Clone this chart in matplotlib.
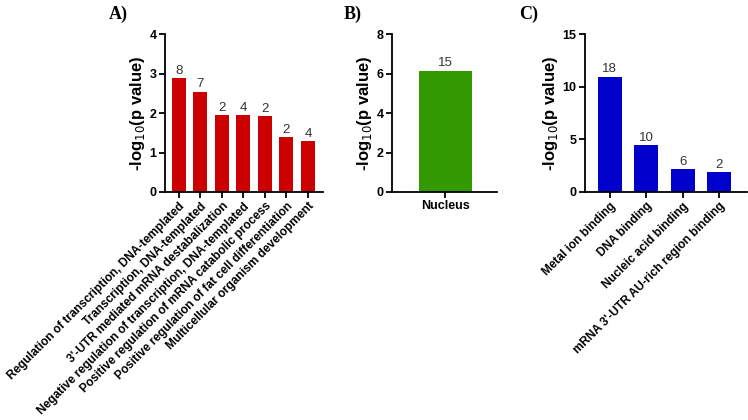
import matplotlib
matplotlib.use("Agg")
import matplotlib.pyplot as plt

plt.rcParams['font.family'] = ['Liberation Sans', 'DejaVu Sans']

# panel A - biological process
bp_terms = ["Regulation of transcription, DNA-templated",
            "Transcription, DNA-templated",
            "3'-UTR mediated mRNA destabalization",
            "Negative regulation of transcription, DNA-templated",
            "Positive regulation of mRNA catabolic process",
            "Positive regulation of fat cell differentiation",
            "Multicellular organism development"]
bp_vals = [2.88, 2.54, 1.95, 1.95, 1.92, 1.38, 1.29]
bp_counts = [8, 7, 2, 4, 2, 2, 4]

# panel B - cellular component
cc_terms = ["Nucleus"]
cc_vals = [6.14]
cc_counts = [15]

# panel C - molecular function
mf_terms = ["Metal ion binding", "DNA binding", "Nucleic acid binding",
            "mRNA 3'-UTR AU-rich region binding"]
mf_vals = [10.95, 4.43, 2.15, 1.9]
mf_counts = [18, 10, 6, 2]

fig = plt.figure(figsize=(7.48, 4.2), dpi=100)

panels = [
    # rect, terms, vals, counts, color, ylim, yticks, xlim, letter, letter pos, rotate
    ([0.2206, 0.5429, 0.2112, 0.376], bp_terms, bp_vals, bp_counts, '#CC0000',
     4, [0, 1, 2, 3, 4], (-0.65, 6.7), 'A)', (0.145, 0.967), True),
    ([0.524, 0.5429, 0.1404, 0.376], cc_terms, cc_vals, cc_counts, '#339900',
     8, [0, 2, 4, 6, 8], (-0.65, 0.63), 'B)', (0.459, 0.967), False),
    ([0.782, 0.5429, 0.216, 0.376], mf_terms, mf_vals, mf_counts, '#0000CC',
     15, [0, 5, 10, 15], (-0.68, 3.75), 'C)', (0.694, 0.967), True),
]

for rect, terms, vals, counts, col, ymax, yt, xl, letter, lp, rot in panels:
    ax = fig.add_axes(rect)
    x = list(range(len(terms)))
    bars = ax.bar(x, vals, width=0.65, color=col)
    for b, c in zip(bars, counts):
        ax.annotate(str(c), (b.get_x() + b.get_width() / 2, b.get_height()),
                    xytext=(0, 1), textcoords='offset points',
                    ha='center', va='bottom', fontsize=9.5, color='#333333')
    ax.set_ylim(0, ymax)
    ax.set_yticks(yt)
    ax.set_xlim(*xl)
    ax.set_xticks(x)
    if rot:
        ax.set_xticklabels(terms, rotation=45, ha='right', rotation_mode='anchor',
                           fontsize=8.6, fontweight='bold')
    else:
        ax.set_xticklabels(terms, fontsize=9, fontweight='bold')
    for lab in ax.get_yticklabels():
        lab.set_fontweight('bold')
        lab.set_fontsize(9)
    ax.spines['top'].set_visible(False)
    ax.spines['right'].set_visible(False)
    ax.spines['left'].set_linewidth(1.3)
    ax.spines['bottom'].set_linewidth(1.3)
    ax.tick_params(width=1.3, length=4, pad=2)
    ax.set_ylabel('-log$_{10}$(p value)', fontsize=12, fontweight='bold', labelpad=2)
    fig.text(lp[0], lp[1], letter, fontsize=13, fontweight='bold',
             family='Liberation Serif', ha='left', va='center')

fig.savefig('out.png', dpi=100)
